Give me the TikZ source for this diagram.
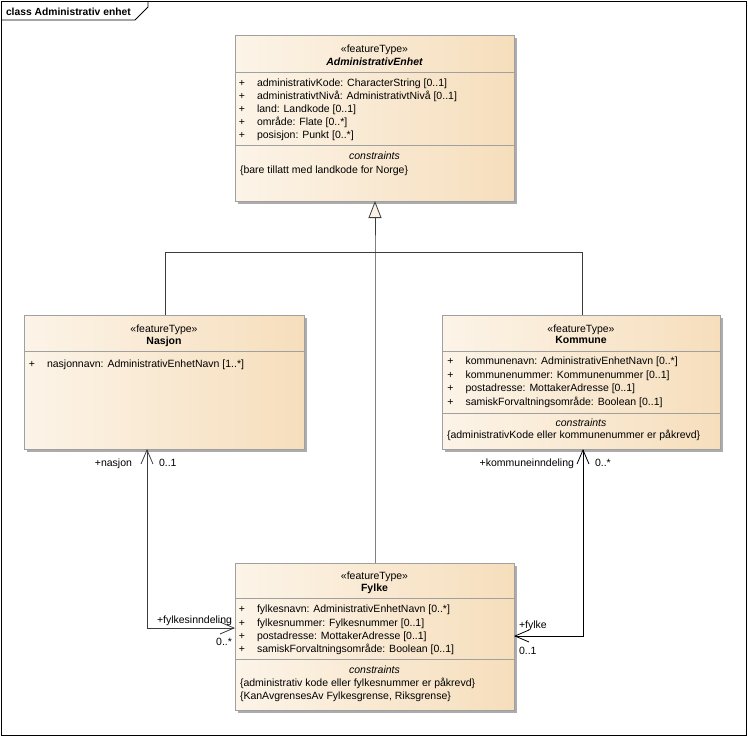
\documentclass[tikz,border=0pt]{standalone}
\usepackage{fontspec}
\setmainfont{Liberation Sans}
\usetikzlibrary{arrows.meta,shadows}
\definecolor{boxL}{RGB}{252,244,232}
\definecolor{boxR}{RGB}{246,222,188}
\definecolor{boxBorder}{RGB}{160,160,160}
\definecolor{shadowC}{RGB}{172,172,172}
\definecolor{lineC}{RGB}{60,60,60}
\definecolor{genFill}{RGB}{252,242,228}
\tikzset{
  umlbox/.style={draw=boxBorder, line width=0.8pt, left color=boxL, right color=boxR,
    shading angle=90, inner sep=0pt, outer sep=0pt, anchor=north west,
    drop shadow={shadow xshift=3pt, shadow yshift=-3pt, opacity=1, fill=shadowC}},
  divider/.style={draw=boxBorder, line width=0.8pt},
  txt/.style={font=\fontsize{10.5}{12}\selectfont, inner sep=0pt, outer sep=0pt},
  attr/.style={txt, anchor=base west},
  ctr/.style={txt, anchor=base},
  plus/.style={txt, anchor=base},
  lbl/.style={txt, anchor=base west},
  lblr/.style={txt, anchor=base east},
  genline/.style={draw=lineC, line width=0.8pt},
  assocline/.style={draw=lineC, line width=0.8pt,
    {Straight Barb[length=14pt,width=12pt]}-{Straight Barb[length=14pt,width=12pt]}},
}
\begin{document}
\begin{tikzpicture}[x=1pt,y=-1pt]
\useasboundingbox (0,0) rectangle (748,736);
% frame
\draw[line width=0.8pt] (1,1) rectangle (746,735);
\draw[line width=0.8pt] (1,20) -- (135,20) -- (148,7) -- (148,1);
\node[txt, anchor=base west, font=\fontsize{10.3}{12}\selectfont\bfseries] (title) at (6,15.5) {class Administrativ enhet};

% boxes
\node[umlbox, minimum width=279pt, minimum height=166pt] (ae) at (235,35) {};
\node[umlbox, minimum width=280pt, minimum height=134pt] (nasjon) at (24,315) {};
\node[umlbox, minimum width=278pt, minimum height=134pt] (kommune) at (442,315) {};
\node[umlbox, minimum width=279pt, minimum height=147pt] (fylke) at (235,563) {};

% AdministrativEnhet
\node[ctr] (aeS) at (374.5,52.5) {«featureType»};
\node[ctr, font=\fontsize{10.5}{12}\selectfont\bfseries\itshape] (aeN) at (374.5,65.5) {AdministrativEnhet};
\draw[divider] (ae.west |- 0,72) -- (ae.east |- 0,72);
\node[plus] (aep1) at (242,86) {+};
\node[attr] (aea1) at (257,86) {administrativKode: CharacterString [0..1]};
\node[plus] (aep2) at (242,99.5) {+};
\node[attr] (aea2) at (257,99.5) {administrativtNivå: AdministrativtNivå [0..1]};
\node[plus] (aep3) at (242,112) {+};
\node[attr] (aea3) at (257,112) {land: Landkode [0..1]};
\node[plus] (aep4) at (242,125.5) {+};
\node[attr] (aea4) at (257,125.5) {område: Flate [0..*]};
\node[plus] (aep5) at (242,138) {+};
\node[attr] (aea5) at (257,138) {posisjon: Punkt [0..*]};
\draw[divider] (ae.west |- 0,145) -- (ae.east |- 0,145);
\node[ctr, font=\fontsize{10.5}{12}\selectfont\itshape] (aeC) at (374.5,159.5) {constraints};
\node[attr] (aec1) at (240,173.5) {\{bare tillatt med landkode for Norge\}};

% Nasjon
\node[ctr] (nS) at (164,332.5) {«featureType»};
\node[ctr, font=\fontsize{10.5}{12}\selectfont\bfseries] (nN) at (164,344) {Nasjon};
\draw[divider] (nasjon.west |- 0,351) -- (nasjon.east |- 0,351);
\node[plus] (np1) at (32,367) {+};
\node[attr] (na1) at (47,367) {nasjonnavn: AdministrativEnhetNavn [1..*]};

% Kommune
\node[ctr] (kS) at (581,332.5) {«featureType»};
\node[ctr, font=\fontsize{10.5}{12}\selectfont\bfseries] (kN) at (581,343.5) {Kommune};
\draw[divider] (kommune.west |- 0,351) -- (kommune.east |- 0,351);
\node[plus] (kp1) at (450.5,364.5) {+};
\node[attr] (ka1) at (465.5,364.5) {kommunenavn: AdministrativEnhetNavn [0..*]};
\node[plus] (kp2) at (450.5,378) {+};
\node[attr] (ka2) at (465.5,378) {kommunenummer: Kommunenummer [0..1]};
\node[plus] (kp3) at (450.5,391.5) {+};
\node[attr] (ka3) at (465.5,391.5) {postadresse: MottakerAdresse [0..1]};
\node[plus] (kp4) at (450.5,405) {+};
\node[attr] (ka4) at (465.5,405) {samiskForvaltningsområde: Boolean [0..1]};
\draw[divider] (kommune.west |- 0,413) -- (kommune.east |- 0,413);
\node[ctr, font=\fontsize{10.5}{12}\selectfont\itshape] (kC) at (581,426) {constraints};
\node[attr] (kc1) at (447,438.5) {\{administrativKode eller kommunenummer er påkrevd\}};

% Fylke
\node[ctr] (fS) at (374.5,579.5) {«featureType»};
\node[ctr, font=\fontsize{10.5}{12}\selectfont\bfseries] (fN) at (374.5,591.5) {Fylke};
\draw[divider] (fylke.west |- 0,598) -- (fylke.east |- 0,598);
\node[plus] (fp1) at (242,612) {+};
\node[attr] (fa1) at (257,612) {fylkesnavn: AdministrativEnhetNavn [0..*]};
\node[plus] (fp2) at (242,626) {+};
\node[attr] (fa2) at (257,626) {fylkesnummer: Fylkesnummer [0..1]};
\node[plus] (fp3) at (242,639) {+};
\node[attr] (fa3) at (257,639) {postadresse: MottakerAdresse [0..1]};
\node[plus] (fp4) at (242,652) {+};
\node[attr] (fa4) at (257,652) {samiskForvaltningsområde: Boolean [0..1]};
\draw[divider] (fylke.west |- 0,659) -- (fylke.east |- 0,659);
\node[ctr, font=\fontsize{10.5}{12}\selectfont\itshape] (fC) at (374.5,673) {constraints};
\node[attr] (fc1) at (240,686.5) {\{administrativ kode eller fylkesnummer er påkrevd\}};
\node[attr] (fc2) at (240,699.5) {\{KanAvgrensesAv Fylkesgrense, Riksgrense\}};

% generalization
\coordinate (gtip) at (375,201);
\coordinate (gj) at (375,252);
\coordinate (gnx) at (165,252);
\coordinate (gkx) at (582,252);
\draw[genline, -{Triangle[length=17pt,width=13pt,fill=genFill]}] (fylke.north -| gj) -- (gj) -- (ae.south -| gtip);
\draw[genline] (nasjon.north -| gnx) -- (gnx) -- (gkx) -- (kommune.north -| gkx);

% associations
\coordinate (nfc) at (147,628);
\coordinate (kfc) at (583,636);
\draw[assocline] (nasjon.south -| nfc) -- (nfc) -- (fylke.west |- nfc);
\draw[assocline, draw=black] (kommune.south -| kfc) -- (kfc) -- (fylke.east |- kfc);

% association labels
\node[lblr] (l1) at (132,466.5) {+nasjon};
\node[lbl] (l2) at (159,466.5) {0..1};
\node[lbl] (l3) at (157,623.5) {+fylkesinndeling};
\node[lblr] (l4) at (232,645.5) {0..*};
\node[lblr] (l5) at (574,466.5) {+kommuneinndeling};
\node[lbl] (l6) at (595,466.5) {0..*};
\node[lbl] (l7) at (519,628) {+fylke};
\node[lbl] (l8) at (519,654) {0..1};
\end{tikzpicture}
\end{document}
